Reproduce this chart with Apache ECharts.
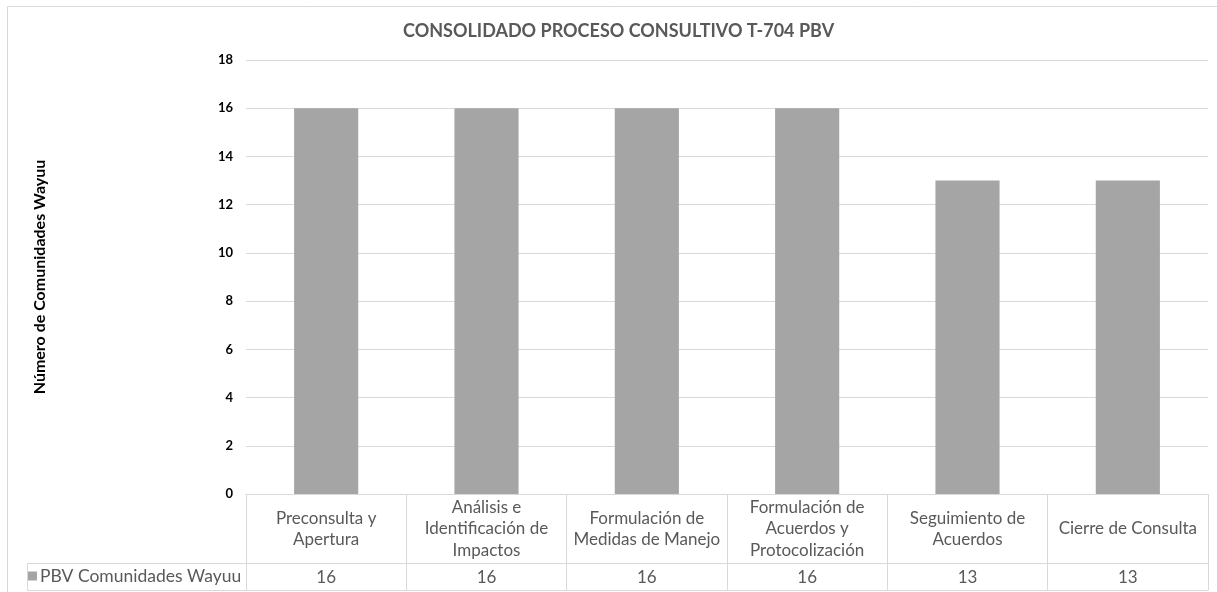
<!DOCTYPE html>
<html>
<head>
<meta charset="utf-8">
<script src="https://cdn.jsdelivr.net/npm/echarts@6/dist/echarts.min.js"></script>
<style>
html,body{margin:0;padding:0;background:#fff;}
#chart{width:1217px;height:592px;}
</style>
</head>
<body>
<div id="chart"></div>
<script>
const chartTitle = 'CONSOLIDADO PROCESO CONSULTIVO T-704 PBV';
const yAxisName = 'Número de Comunidades Wayuu';
const seriesName = 'PBV Comunidades Wayuu';
const categories = [
  'Preconsulta y\nApertura',
  'Análisis e\nIdentificación de\nImpactos',
  'Formulación de\nMedidas de Manejo',
  'Formulación de\nAcuerdos y\nProtocolización',
  'Seguimiento de\nAcuerdos',
  'Cierre de Consulta'
];
const values = [16, 16, 16, 16, 13, 13];
const yMin = 0, yMax = 18, yInterval = 2;

const FONT = 'Lato';
const TXT = '#595959';
const LINE = '#d9d9d9';
const BAR = '#a5a5a5';

const chart = echarts.init(document.getElementById('chart'), null, {renderer: 'canvas'});
chart.setOption({
  animation: false,
  backgroundColor: '#fff',
  title: {
    text: chartTitle,
    left: 403,
    top: 22,
    padding: 0,
    textStyle: {fontFamily: FONT, fontWeight: 'bold', fontSize: 18, color: TXT}
  },
  legend: {
    data: [seriesName],
    left: 28,
    top: 567,
    padding: 0,
    icon: 'rect',
    itemWidth: 9,
    itemHeight: 9,
    textStyle: {fontFamily: FONT, fontSize: 17.5, color: TXT, padding: [0, 0, 0, -2]}
  },
  grid: {left: 246, right: 9, top: 60, bottom: 98, containLabel: false},
  xAxis: [
    {
      type: 'category',
      data: categories,
      position: 'bottom',
      axisLine: {show: true, lineStyle: {color: LINE, width: 1}},
      axisTick: {show: true, length: 69, lineStyle: {color: LINE}},
      axisLabel: {
        interval: 0, fontFamily: FONT, fontSize: 17, lineHeight: 21.5,
        color: TXT, margin: 35, verticalAlign: 'middle', align: 'center'
      },
      splitLine: {show: false}
    },
    {
      type: 'category',
      data: categories,
      position: 'bottom',
      offset: 69,
      axisLine: {show: true, lineStyle: {color: LINE, width: 1}},
      axisTick: {show: true, length: 27, lineStyle: {color: LINE}},
      axisLabel: {
        interval: 0, fontFamily: FONT, fontSize: 17, color: TXT,
        margin: 14.5, verticalAlign: 'middle',
        formatter: function (v, i) { return String(values[i]); }
      },
      splitLine: {show: false}
    },
    {
      type: 'category',
      data: categories,
      position: 'bottom',
      offset: 96,
      axisLine: {show: true, lineStyle: {color: LINE, width: 1}},
      axisTick: {show: false},
      axisLabel: {show: false},
      splitLine: {show: false}
    }
  ],
  yAxis: {
    type: 'value',
    min: yMin,
    max: yMax,
    interval: yInterval,
    name: yAxisName,
    nameLocation: 'middle',
    nameRotate: 90,
    nameGap: 198,
    nameTextStyle: {fontFamily: FONT, fontWeight: 'bold', fontSize: 16, color: '#000'},
    axisLine: {show: false},
    axisTick: {show: false},
    axisLabel: {fontFamily: FONT, fontWeight: 'bold', fontSize: 13, color: '#000', margin: 13},
    splitLine: {show: true, lineStyle: {color: LINE, width: 1}}
  },
  series: [{
    name: seriesName,
    type: 'bar',
    xAxisIndex: 0,
    data: values,
    barWidth: '40%',
    itemStyle: {color: BAR}
  }],
  graphic: [
    {type: 'rect', shape: {x: 7.5, y: 6.5, width: 1230, height: 620}, style: {fill: 'none', stroke: LINE, lineWidth: 1}, silent: true, z: -1},
    {type: 'line', shape: {x1: 27.5, y1: 563.5, x2: 246, y2: 563.5}, style: {stroke: LINE, lineWidth: 1}, silent: true},
    {type: 'line', shape: {x1: 27.5, y1: 590.5, x2: 246, y2: 590.5}, style: {stroke: LINE, lineWidth: 1}, silent: true},
    {type: 'line', shape: {x1: 27.5, y1: 563.5, x2: 27.5, y2: 590.5}, style: {stroke: LINE, lineWidth: 1}, silent: true}
  ]
});
</script>
</body>
</html>
